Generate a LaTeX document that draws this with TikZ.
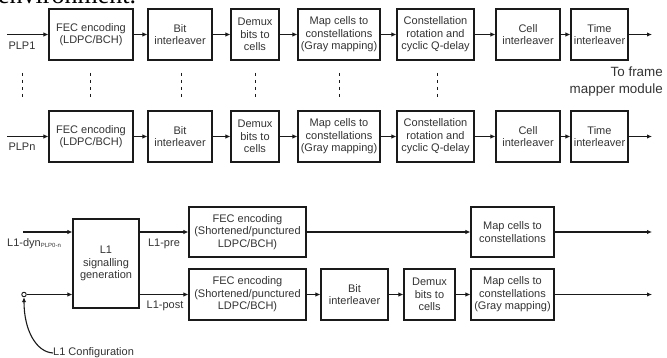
\documentclass[tikz,border=0pt]{standalone}
\usepackage{fontspec}
\setmainfont{Liberation Sans}
\newfontfamily\serifpage{Liberation Serif}
\usetikzlibrary{arrows.meta}
\definecolor{ink}{HTML}{1A1A1A}
\definecolor{txt}{HTML}{333333}
\tikzset{
  blk/.style={draw=ink, line width=1.1pt, inner sep=0pt, align=center, text=txt,
    font=\fontsize{11}{12.6}\selectfont},
  arr/.style={draw=ink, line width=1.1pt, -{Latex[length=5pt,width=4.5pt]}},
  lbl/.style={inner sep=0pt, text=txt, font=\fontsize{11}{12.6}\selectfont},
  dots/.style={draw=ink, line width=1pt, dash pattern=on 3pt off 4pt},
}
\begin{document}
\begin{tikzpicture}[x=1pt,y=-1pt]
\useasboundingbox (0,0) rectangle (667,358);
\clip (0,0) rectangle (667,358);
% page text fragment (cut off at the top edge, as in the reference)
\node[anchor=base west, inner sep=0pt, font=\serifpage\fontsize{26}{26}\selectfont] (env) at (-2,3.5) {environment.};
% ---------- PLP rows ----------
\foreach \r/\y in {1/34.5, n/136.5}{
  \node[blk, minimum width=84pt, minimum height=51pt] (fec\r) at (91,\y) {FEC encoding\\(LDPC/BCH)};
  \node[blk, minimum width=64pt, minimum height=51pt] (bit\r) at (180,\y) {Bit\\interleaver};
  \node[blk, minimum width=48pt, minimum height=51pt] (dmx\r) at (255,\y) {Demux\\bits to\\cells};
  \node[blk, minimum width=82pt, minimum height=51pt] (map\r) at (339,\y) {Map cells to\\constellations\\(Gray mapping)};
  \node[blk, minimum width=77pt, minimum height=51pt] (rot\r) at (435.5,\y) {Constellation\\rotation and\\cyclic Q-delay};
  \node[blk, minimum width=64pt, minimum height=51pt] (cel\r) at (528,\y) {Cell\\interleaver};
  \node[blk, minimum width=57pt, minimum height=51pt] (tim\r) at (599.5,\y) {Time\\interleaver};
  \coordinate (in\r) at (7,\y);
  \coordinate (out\r) at (652,\y);
  \draw[arr] (in\r) -- (fec\r);
  \draw[arr] (fec\r) -- (bit\r);
  \draw[arr] (bit\r) -- (dmx\r);
  \draw[arr] (dmx\r) -- (map\r);
  \draw[arr] (map\r) -- (rot\r);
  \draw[arr] (rot\r) -- (cel\r);
  \draw[arr] (cel\r) -- (tim\r);
  \draw[arr] (tim\r) -- (out\r);
}
\node[lbl] (plp1) at (22,45.5) {PLP1};
\node[lbl] (plpn) at (22,146.5) {PLPn};
% vertical dotted continuation marks
\foreach \x in {22,90,181,255,339,437}{
  \draw[dots] (\x,73) -- (\x,99);
}
\node[lbl, anchor=east, align=right, font=\fontsize{13.4}{17}\selectfont] (tofm) at (663,82) {To frame\\mapper module};
% ---------- L1 signalling ----------
\node[blk, minimum width=66pt, minimum height=89pt] (l1) at (106,263.5) {L1\\signalling\\generation};
\node[blk, minimum width=117pt, minimum height=50pt] (fecpre) at (247.5,232) {FEC encoding\\(Shortened/punctured\\LDPC/BCH)};
\node[blk, minimum width=117pt, minimum height=51pt] (fecpost) at (247.5,294.5) {FEC encoding\\(Shortened/punctured\\LDPC/BCH)};
\node[blk, minimum width=83pt, minimum height=50pt] (mappre) at (512.5,232) {Map cells to\\constellations};
\node[blk, minimum width=67pt, minimum height=51pt] (bitp) at (354.5,294.5) {Bit\\interleaver};
\node[blk, minimum width=51pt, minimum height=51pt] (dmxp) at (429.5,294.5) {Demux\\bits to\\cells};
\node[blk, minimum width=83pt, minimum height=51pt] (mapp) at (512.5,294.5) {Map cells to\\constellations\\(Gray mapping)};
\coordinate (dyn) at (23,232);
\node[draw=ink, circle, line width=0.9pt, minimum size=4.5pt, inner sep=0pt] (circ) at (24,294.5) {};
\coordinate (outpre) at (652,232);
\coordinate (outpost) at (652,294.5);
\draw[arr] (dyn) -- (dyn -| l1.west);
\draw[arr] (circ) -- (circ -| l1.west);
\draw[arr] (l1.east |- fecpre) -- (fecpre.west);
\draw[arr] (l1.east |- fecpost) -- (fecpost.west);
\draw[arr] (fecpre) -- (mappre);
\draw[arr] (mappre) -- (outpre);
\draw[arr] (fecpost) -- (bitp);
\draw[arr] (bitp) -- (dmxp);
\draw[arr] (dmxp) -- (mapp);
\draw[arr] (mapp) -- (outpost);
\node[lbl, anchor=west] (dynl) at (7,243.5) {L1-dyn\raisebox{-1.5pt}{\fontsize{6}{6}\selectfont PLP0-n}};
\node[lbl] (prel) at (164,243.5) {L1-pre};
\node[lbl] (postl) at (165,306) {L1-post};
\node[lbl, anchor=west] (cfg) at (53,353) {L1 Configuration};
\draw[arr] (cfg.west) .. controls (36,352) and (24,330) .. (circ.south);
\end{tikzpicture}
\end{document}
